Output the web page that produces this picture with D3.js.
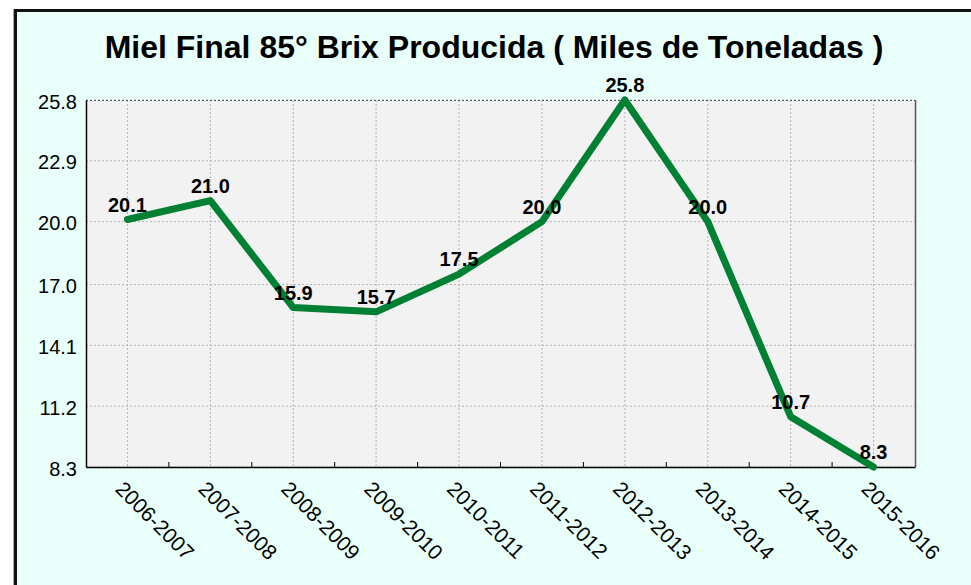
<!DOCTYPE html>
<html><head><meta charset="utf-8">
<script src="https://cdn.jsdelivr.net/npm/d3@7"></script>
<style>html,body{margin:0;padding:0;background:#fff;}svg{display:block;}</style>
</head><body>
<script>
const categories = ["2006-2007","2007-2008","2008-2009","2009-2010","2010-2011","2011-2012","2012-2013","2013-2014","2014-2015","2015-2016"];
const values = [20.1, 21.0, 15.9, 15.7, 17.5, 20.0, 25.8, 20.0, 10.7, 8.3];
const yTicks = [8.3, 11.2, 14.1, 17.0, 20.0, 22.9, 25.8];
const title = "Miel Final 85° Brix Producida ( Miles de Toneladas )";

const W = 971, H = 585;
const svg = d3.select("body").append("svg").attr("width", W).attr("height", H);
const font = "'Liberation Sans', Arial, sans-serif";

// outer frame
svg.append("rect").attr("x", 13).attr("y", 9).attr("width", W).attr("height", H).attr("fill", "#aaa");
svg.append("rect").attr("x", 14).attr("y", 9).attr("width", W).attr("height", H).attr("fill", "#111");
svg.append("rect").attr("x", 17).attr("y", 12).attr("width", W).attr("height", H).attr("fill", "#e8fffa");

const L = 86, R = 915, T = 100, B = 467;
const x = d3.scaleBand().domain(categories).range([L, R]);
const y = d3.scaleLinear().domain([8.3, 25.8]).range([B, T]);

svg.append("rect").attr("x", L).attr("y", T).attr("width", R - L).attr("height", B - T).attr("fill", "#f2f2f2");

// grid
const g = svg.append("g");
g.selectAll(".hg").data(yTicks).join("line")
  .attr("x1", L).attr("x2", R).attr("y1", d => y(d)).attr("y2", d => y(d))
  .attr("stroke", "#b4b4b4").attr("stroke-dasharray", "2,2").attr("stroke-width", 1);
g.selectAll(".vg").data(categories).join("line")
  .attr("x1", d => x(d) + x.bandwidth() / 2).attr("x2", d => x(d) + x.bandwidth() / 2)
  .attr("y1", T).attr("y2", B)
  .attr("stroke", "#b4b4b4").attr("stroke-dasharray", "2,2").attr("stroke-width", 1);

// top dotted border
svg.append("line").attr("x1", L).attr("x2", R).attr("y1", T + 0.5).attr("y2", T + 0.5)
  .attr("stroke", "#555").attr("stroke-dasharray", "2,2");
// right border
svg.append("line").attr("x1", R + 0.5).attr("x2", R + 0.5).attr("y1", T).attr("y2", B)
  .attr("stroke", "#555").attr("stroke-width", 1.5);

// y axis
const yAxis = svg.append("g").attr("transform", `translate(${L},0)`)
  .call(d3.axisLeft(y).tickValues(yTicks).tickFormat(d3.format(".1f")).tickSize(0).tickPadding(9));
yAxis.select(".domain").attr("stroke", "#000").attr("stroke-width", 1.5);
yAxis.selectAll("text").attr("font-family", font).attr("font-size", 20).attr("fill", "#000").attr("dy", "0.4em");

// x axis
const xAxis = svg.append("g").attr("transform", `translate(0,${B})`)
  .call(d3.axisBottom(x).tickSize(0).tickFormat(""));
xAxis.select(".domain").attr("stroke", "#000").attr("stroke-width", 1.5);
// boundary tick marks
const bounds = categories.slice(1).map(c => x(c));
svg.selectAll(".bt").data(bounds).join("line")
  .attr("x1", d => d).attr("x2", d => d).attr("y1", B - 5).attr("y2", B)
  .attr("stroke", "#000").attr("stroke-width", 1);

svg.selectAll(".xl").data(categories).join("text")
  .attr("transform", d => `translate(${x(d) + x.bandwidth() / 2 - 8},${B + 18}) rotate(45)`)
  .attr("font-family", font).attr("font-size", 21).attr("fill", "#000")
  .attr("text-anchor", "start").attr("dy", "0.35em")
  .text(d => d);

// line
const line = d3.line().x((d, i) => x(categories[i]) + x.bandwidth() / 2).y(d => y(d));
svg.append("path").datum(values).attr("d", line)
  .attr("fill", "none").attr("stroke", "#008033").attr("stroke-width", 7)
  .attr("stroke-linejoin", "round").attr("stroke-linecap", "round");

// labels
svg.selectAll(".vl").data(values).join("text")
  .attr("x", (d, i) => x(categories[i]) + x.bandwidth() / 2)
  .attr("y", d => y(d) - 8)
  .attr("text-anchor", "middle").attr("font-family", font).attr("font-weight", "bold")
  .attr("font-size", 20).attr("fill", "#000")
  .text(d => d.toFixed(1));

// title
svg.append("text").attr("x", 494).attr("y", 58).attr("text-anchor", "middle")
  .attr("font-family", font).attr("font-weight", "bold").attr("font-size", 32).attr("fill", "#000")
  .text(title);
</script>
</body></html>
